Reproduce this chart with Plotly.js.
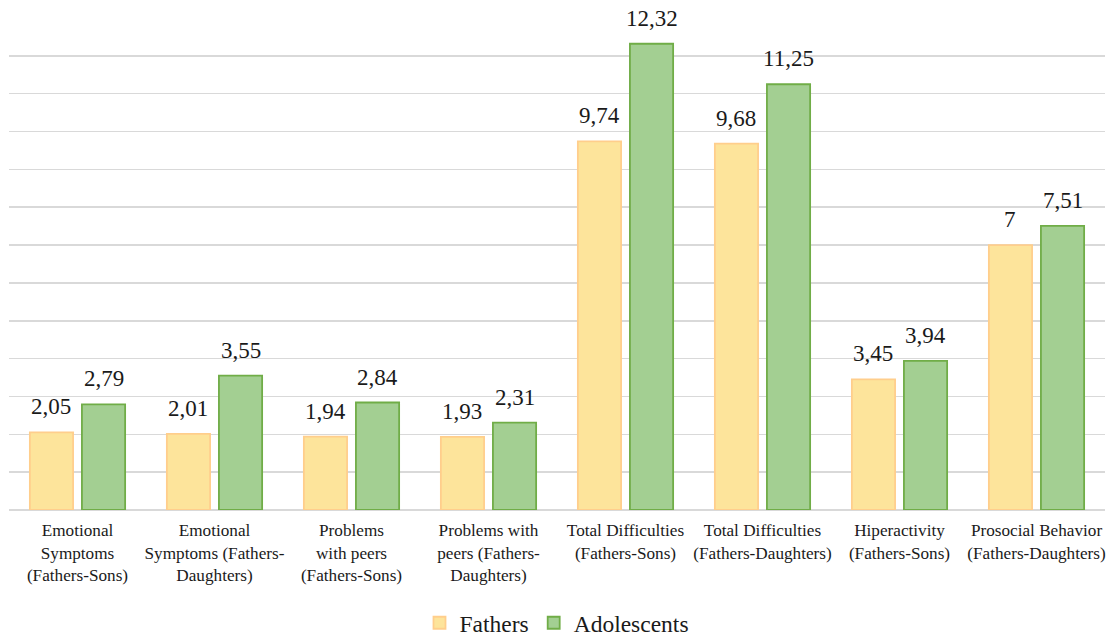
<!DOCTYPE html>
<html>
<head>
<meta charset="utf-8">
<script src="https://cdn.plot.ly/plotly-3.0.1.min.js"></script>
<style>html,body{margin:0;padding:0;background:#fff;}#chart{width:1111px;height:637px;}</style>
</head>
<body>
<div id="chart"></div>
<script>
const categories = [
  "Emotional<br>Symptoms<br>(Fathers-Sons)",
  "Emotional<br>Symptoms (Fathers-<br>Daughters)",
  "Problems<br>with peers<br>(Fathers-Sons)",
  "Problems with<br>peers (Fathers-<br>Daughters)",
  "Total Difficulties<br>(Fathers-Sons)",
  "Total Difficulties<br>(Fathers-Daughters)",
  "Hiperactivity<br>(Fathers-Sons)",
  "Prosocial Behavior<br>(Fathers-Daughters)"
];
const fathers = [2.05, 2.01, 1.94, 1.93, 9.74, 9.68, 3.45, 7];
const adolescents = [2.79, 3.55, 2.84, 2.31, 12.32, 11.25, 3.94, 7.51];
const seriesNames = ["Fathers", "Adolescents"];

const fmt = v => String(v).replace('.', ',');
const font = "Liberation Serif";
const W = 1111, H = 637;
const margin = {l: 9, r: 6, t: 18, b: 127};
const bargap = 0.24, bargroupgap = 0.17;
const catW = (W - margin.l - margin.r) / categories.length;
const off = (1 - bargap) * catW / 4;

const traces = [
  {
    type: 'bar', name: seriesNames[0], x: categories, y: fathers,
    marker: {color: 'rgb(253,228,155)', line: {color: 'rgb(255,206,140)', width: 1.8}},
    hoverinfo: 'skip'
  },
  {
    type: 'bar', name: seriesNames[1], x: categories, y: adolescents,
    marker: {color: 'rgb(163,207,146)', line: {color: 'rgb(112,173,71)', width: 1.8}},
    hoverinfo: 'skip'
  }
];

const annotations = [];
[fathers, adolescents].forEach((vals, si) => {
  vals.forEach((v, i) => {
    annotations.push({
      x: categories[i], y: v, xref: 'x', yref: 'y',
      text: fmt(v), showarrow: false, xanchor: 'center', yanchor: 'bottom',
      xshift: si === 0 ? -off : off, yshift: 11,
      font: {family: font, size: 23, color: '#1a1a1a'}
    });
  });
});

const layout = {
  width: W, height: H, margin: margin,
  paper_bgcolor: '#fff', plot_bgcolor: '#fff',
  barmode: 'group', bargap: bargap, bargroupgap: bargroupgap,
  showlegend: true,
  legend: {orientation: 'h', x: 0.5, xanchor: 'center', yref: 'container', y: 0.022, yanchor: 'middle',
    font: {family: font, size: 23.5, color: '#1a1a1a'}, itemwidth: 30, traceorder: 'normal'},
  xaxis: {
    type: 'category', showgrid: false, zeroline: false, showline: false,
    ticks: '', ticklabelstandoff: 8,
    tickfont: {family: font, size: 17.2, color: '#1a1a1a'}, automargin: false
  },
  yaxis: {
    range: [0, 13], dtick: 1, showticklabels: false, showgrid: true,
    gridcolor: '#d9d9d9', gridwidth: 1.5, zeroline: true, zerolinecolor: '#d9d9d9', zerolinewidth: 1.5,
    showline: false, ticks: '', fixedrange: true, automargin: false
  },
  annotations: annotations,
  font: {family: font}
};

Plotly.newPlot('chart', traces, layout, {displayModeBar: false, staticPlot: true});
</script>
</body>
</html>
